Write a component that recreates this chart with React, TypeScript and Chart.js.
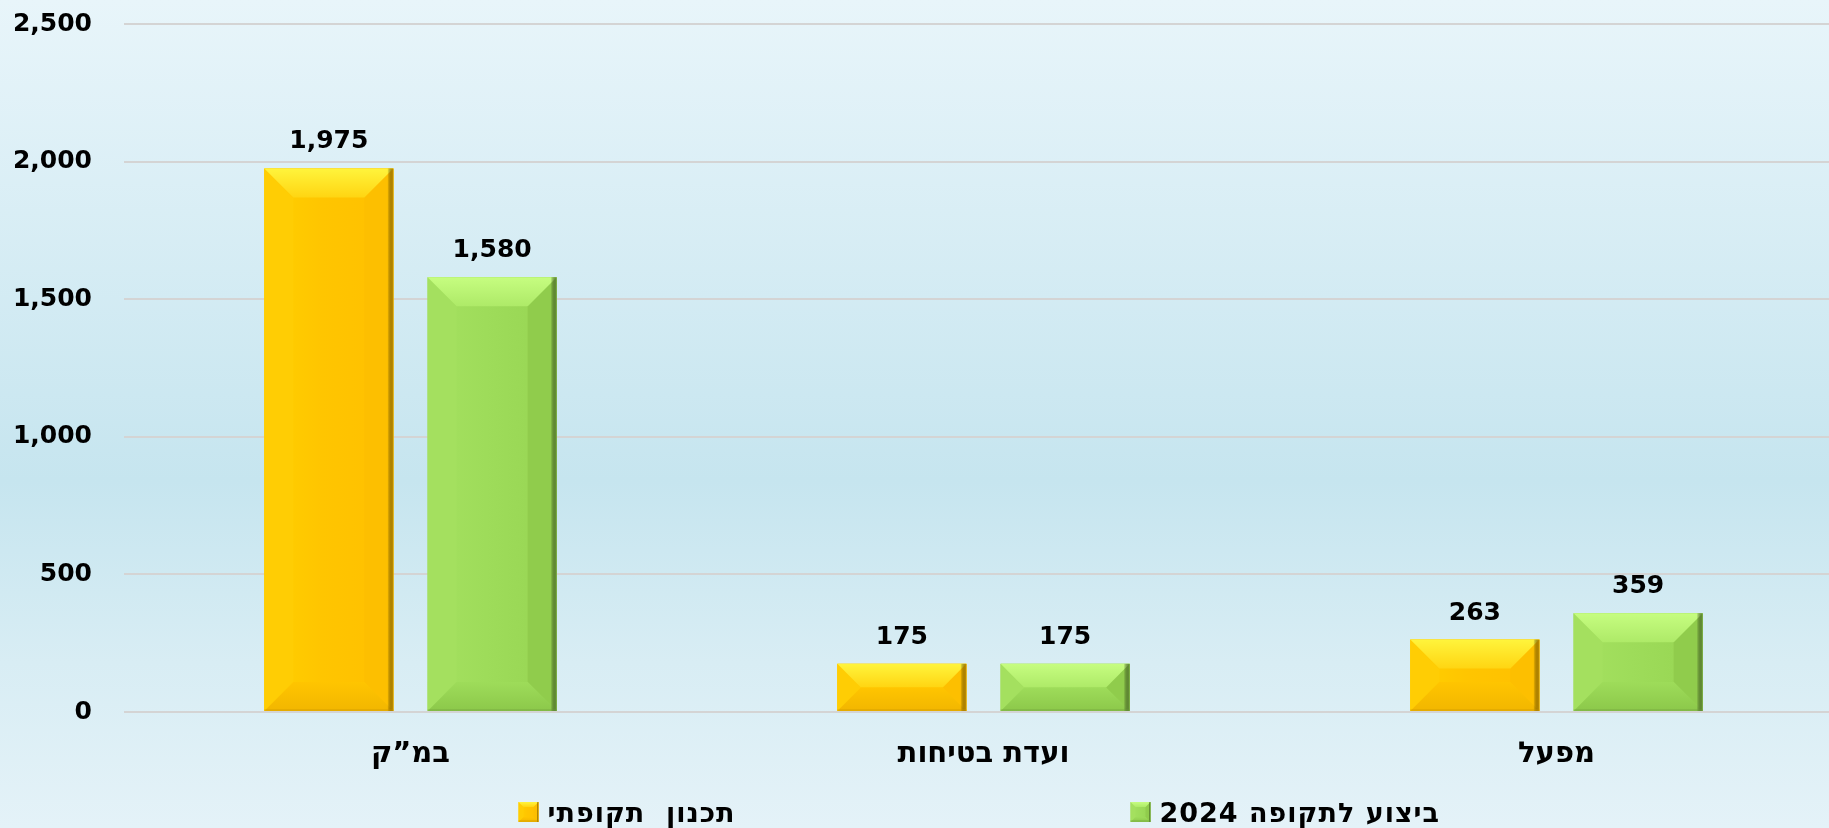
import React, { useEffect, useRef } from "react";
import { Chart, registerables } from "chart.js";

Chart.register(...registerables);

const categories = ["במ”ק", "ועדת בטיחות", "מפעל"];
const seriesNames = ["תכנון  תקופתי", "ביצוע לתקופה 2024"];
const plannedValues = [1975, 175, 263];
const actualValues = [1580, 175, 359];
const yTickValues = [0, 500, 1000, 1500, 2000, 2500];

const FONT = "'DejaVu Sans', 'Noto Sans', sans-serif";

const palettes = [
  {
    face: "#ffc500",
    faceLeft: "#ffd000",
    faceRight: "#ffc000",
    topHi: "#fff43c",
    topLo: "#ffd512",
    left: "#ffcd04",
    right: "#fdbf00",
    bottomLo: "#f2b600",
    edge: "#c89400",
  },
  {
    face: "#9edc5a",
    faceLeft: "#a5e160",
    faceRight: "#97d553",
    topHi: "#c6fd80",
    topLo: "#aeea68",
    left: "#a4e05f",
    right: "#90cc4c",
    bottomLo: "#8cc84a",
    edge: "#6c9a3a",
  },
];

function drawBevelBar(ctx: CanvasRenderingContext2D, L: number, T: number, R: number, B: number, p: any, maxBevel: number, edgeW: number) {
  const h = B - T;
  const w = R - L;
  if (h <= 0 || w <= 0) return;
  const b = Math.min(maxBevel, h / 2, w / 2);
  const fg = ctx.createLinearGradient(L, 0, R, 0);
  fg.addColorStop(0, p.faceLeft);
  fg.addColorStop(0.45, p.face);
  fg.addColorStop(1, p.faceRight);
  ctx.fillStyle = fg;
  ctx.fillRect(L, T, w, h);
  ctx.fillStyle = p.left;
  ctx.beginPath();
  ctx.moveTo(L, T);
  ctx.lineTo(L + b, T + b);
  ctx.lineTo(L + b, B - b);
  ctx.lineTo(L, B);
  ctx.closePath();
  ctx.fill();
  ctx.fillStyle = p.right;
  ctx.beginPath();
  ctx.moveTo(R, T);
  ctx.lineTo(R - b, T + b);
  ctx.lineTo(R - b, B - b);
  ctx.lineTo(R, B);
  ctx.closePath();
  ctx.fill();
  const tg = ctx.createLinearGradient(0, T, 0, T + b);
  tg.addColorStop(0, p.topHi);
  tg.addColorStop(1, p.topLo);
  ctx.fillStyle = tg;
  ctx.beginPath();
  ctx.moveTo(L, T);
  ctx.lineTo(R, T);
  ctx.lineTo(R - b, T + b);
  ctx.lineTo(L + b, T + b);
  ctx.closePath();
  ctx.fill();
  const bg = ctx.createLinearGradient(0, B - b, 0, B);
  bg.addColorStop(0, p.face);
  bg.addColorStop(1, p.bottomLo);
  ctx.fillStyle = bg;
  ctx.beginPath();
  ctx.moveTo(L, B);
  ctx.lineTo(R, B);
  ctx.lineTo(R - b, B - b);
  ctx.lineTo(L + b, B - b);
  ctx.closePath();
  ctx.fill();
  const eg = ctx.createLinearGradient(R - edgeW, 0, R, 0);
  eg.addColorStop(0, "rgba(0,0,0,0)");
  eg.addColorStop(1, p.edge);
  ctx.fillStyle = eg;
  ctx.fillRect(R - edgeW, T, edgeW, h);
  ctx.globalAlpha = 0.3;
  ctx.fillStyle = p.edge;
  ctx.fillRect(L, B - 2, w, 2);
  ctx.globalAlpha = 1;
}

const backgroundPlugin = {
  id: "bgGradient",
  beforeDraw(chart: any) {
    const { ctx, width, height } = chart;
    const g = ctx.createLinearGradient(0, 0, 0, height);
    g.addColorStop(0, "#e8f5fa");
    g.addColorStop(0.58, "#c6e5ef");
    g.addColorStop(0.8, "#d8edf4");
    g.addColorStop(1, "#e4f2f8");
    ctx.save();
    ctx.fillStyle = g;
    ctx.fillRect(0, 0, width, height);
    ctx.restore();
  },
};

const bevelPlugin = {
  id: "bevelBars",
  afterDatasetsDraw(chart: any) {
    const ctx = chart.ctx;
    ctx.save();
    chart.data.datasets.forEach((ds: any, di: number) => {
      const meta = chart.getDatasetMeta(di);
      const p = palettes[di];
      meta.data.forEach((el: any, i: number) => {
        const { x, y, base, width } = el.getProps(["x", "y", "base", "width"], true);
        const L = x - width / 2;
        const R = x + width / 2;
        drawBevelBar(ctx, L, y, R, base, p, 29, 6);
        const v = ds.data[i];
        ctx.fillStyle = "#000";
        ctx.font = `bold 25px ${FONT}`;
        ctx.textAlign = "center";
        ctx.textBaseline = "alphabetic";
        ctx.fillText(Number(v).toLocaleString("en-US"), x, y - 20);
      });
    });
    ctx.restore();
  },
};

const legendPlugin = {
  id: "customLegend",
  afterDraw(chart: any) {
    const ctx = chart.ctx;
    const area = chart.chartArea;
    const cx = (area.left + area.right) / 2;
    const boxY = 802;
    const offsets = [-465, 147];
    ctx.save();
    chart.data.datasets.forEach((ds: any, di: number) => {
      const bx = cx + offsets[di];
      drawBevelBar(ctx, bx, boxY, bx + 20, boxY + 20, palettes[di], 5, 2);
      ctx.fillStyle = "#000";
      ctx.font = `bold 27px ${FONT}`;
      (ctx as any).letterSpacing = "1px";
      ctx.textAlign = "left";
      ctx.textBaseline = "alphabetic";
      ctx.fillText(ds.label, bx + 29, boxY + 20);
      (ctx as any).letterSpacing = "0px";
    });
    ctx.restore();
  },
};

export default function App() {
  const canvasRef = useRef<HTMLCanvasElement | null>(null);

  useEffect(() => {
    if (!canvasRef.current) return;
    const chart = new Chart(canvasRef.current, {
      type: "bar",
      data: {
        labels: categories,
        datasets: [
          {
            label: seriesNames[0],
            data: plannedValues,
            backgroundColor: palettes[0].face,
            borderWidth: 0,
          },
          {
            label: seriesNames[1],
            data: actualValues,
            backgroundColor: palettes[1].face,
            borderWidth: 0,
          },
        ],
      },
      options: {
        animation: false,
        responsive: true,
        maintainAspectRatio: false,
        layout: { padding: { top: 24, right: 0, left: 0, bottom: 0 } },
        datasets: {
          bar: {
            categoryPercentage: 0.57,
            barPercentage: 0.79,
          },
        },
        plugins: {
          legend: { display: false },
          tooltip: { enabled: false },
          title: { display: false },
        },
        scales: {
          x: {
            grid: { display: false, drawTicks: false },
            border: { display: false },
            ticks: {
              color: "#000",
              font: { family: FONT, size: 29, weight: "bold" },
              padding: 25,
            },
            afterFit(scale: any) {
              scale.height = 116;
              scale.paddingLeft = 0;
              scale.paddingRight = 0;
            },
          },
          y: {
            min: 0,
            max: 2500,
            grid: { color: "#d4d4d4", lineWidth: 2, drawTicks: false },
            border: { display: false },
            afterBuildTicks(scale: any) {
              scale.ticks = yTickValues.map((v) => ({ value: v }));
            },
            ticks: {
              color: "#000",
              font: { family: FONT, size: 25, weight: "bold" },
              padding: 32,
              callback: (v: any) => Number(v).toLocaleString("en-US"),
            },
            afterFit(scale: any) {
              scale.width = 124;
              scale.paddingTop = 0;
              scale.paddingBottom = 0;
            },
          },
        },
      },
      plugins: [backgroundPlugin, bevelPlugin, legendPlugin],
    });
    return () => chart.destroy();
  }, []);

  return (
    <div
      style={{
        position: "absolute",
        left: 0,
        top: 0,
        width: 1829,
        height: 828,
        overflow: "hidden",
      }}
    >
      <div style={{ position: "relative", width: 1843, height: 828 }}>
        <canvas ref={canvasRef} />
      </div>
    </div>
  );
}
